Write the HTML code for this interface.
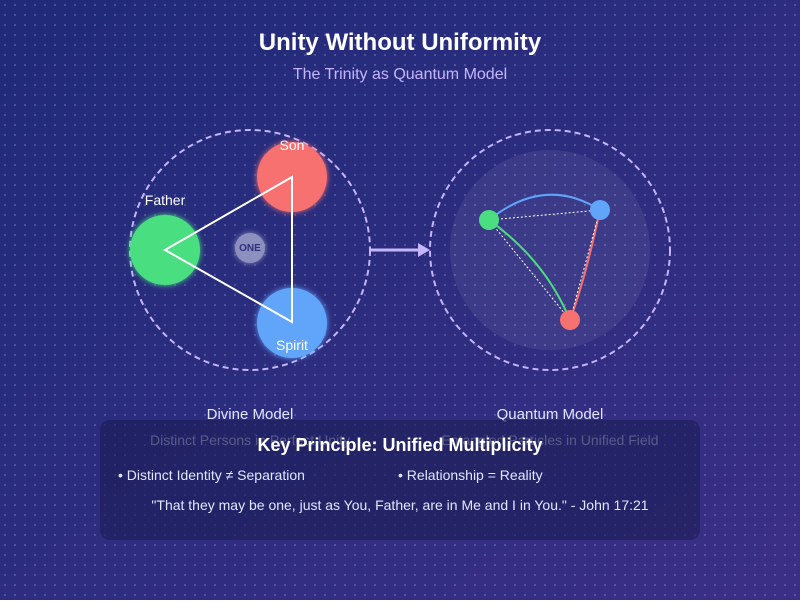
<!DOCTYPE html>
<html><head><meta charset="utf-8"><style>body{margin:0;width:800px;height:600px;overflow:hidden}</style></head><body>
<svg width="800" height="600" viewBox="0 0 800 600" xmlns="http://www.w3.org/2000/svg" font-family="'Liberation Sans', sans-serif">
<defs>
<linearGradient id="bg" x1="0" y1="0" x2="1" y2="1"><stop offset="0" stop-color="#1f2a78"/><stop offset="1" stop-color="#3b2f85"/></linearGradient>
<pattern id="dots" width="10" height="10" patternUnits="userSpaceOnUse"><circle cx="5" cy="5" r="1" fill="#8a93c4" opacity="0.5"/></pattern>
<filter id="glow" x="-50%" y="-50%" width="200%" height="200%"><feGaussianBlur stdDeviation="3" result="b"/><feMerge><feMergeNode in="b"/><feMergeNode in="SourceGraphic"/></feMerge></filter>
</defs>
<rect width="800" height="600" fill="url(#bg)"/>
<rect width="800" height="600" fill="url(#dots)"/>
<text x="400" y="50" text-anchor="middle" fill="#fff" font-size="24" font-weight="bold">Unity Without Uniformity</text>
<text x="400" y="79" text-anchor="middle" fill="#c4b5fd" font-size="16">The Trinity as Quantum Model</text>
<circle cx="250" cy="250" r="120" fill="none" stroke="#c4b5fd" stroke-width="2" stroke-dasharray="6,4"/>
<circle cx="165" cy="250" r="35" fill="#4ade80" filter="url(#glow)"/>
<circle cx="292" cy="177" r="35" fill="#f87171" filter="url(#glow)"/>
<circle cx="292" cy="323" r="35" fill="#60a5fa" filter="url(#glow)"/>
<polygon points="165,250 292,177 292,322" fill="none" stroke="#fff" stroke-width="2"/>
<circle cx="250" cy="248" r="15" fill="#a5a9d0" opacity="0.8" filter="url(#glow)"/>
<text x="250" y="251" text-anchor="middle" fill="#312e81" font-size="10" font-weight="bold">ONE</text>
<text x="165" y="205" text-anchor="middle" fill="#fff" font-size="14">Father</text>
<text x="292" y="150" text-anchor="middle" fill="#fff" font-size="14">Son</text>
<text x="292" y="350" text-anchor="middle" fill="#fff" font-size="14">Spirit</text>
<line x1="370" y1="250" x2="420" y2="250" stroke="#c4b5fd" stroke-width="3"/>
<polygon points="418,243 430,250 418,257" fill="#c4b5fd"/>
<circle cx="550" cy="250" r="120" fill="none" stroke="#c4b5fd" stroke-width="2" stroke-dasharray="6,4"/>
<circle cx="550" cy="250" r="100" fill="#fff" opacity="0.07"/>
<path d="M489,220 Q545,175 600,210" fill="none" stroke="#60a5fa" stroke-width="2"/>
<path d="M489,220 Q545,260 570,320" fill="none" stroke="#4ade80" stroke-width="2"/>
<path d="M600,210 Q585,280 570,320" fill="none" stroke="#f87171" stroke-width="2"/>
<g stroke="#fff" stroke-width="1" stroke-dasharray="2,2" fill="none">
<line x1="489" y1="220" x2="600" y2="210"/><line x1="489" y1="220" x2="570" y2="320"/><line x1="600" y1="210" x2="570" y2="320"/></g>
<circle cx="489" cy="220" r="10" fill="#4ade80"/>
<circle cx="600" cy="210" r="10" fill="#60a5fa"/>
<circle cx="570" cy="320" r="10" fill="#f87171"/>
<text x="250" y="419" text-anchor="middle" fill="#e0e7ff" font-size="15">Divine Model</text>
<text x="550" y="419" text-anchor="middle" fill="#e0e7ff" font-size="15">Quantum Model</text>
<text x="250" y="445" text-anchor="middle" fill="#b5b9d8" font-size="14">Distinct Persons in Perfect Unity</text>
<text x="550" y="445" text-anchor="middle" fill="#b5b9d8" font-size="14">Entangled Particles in Unified Field</text>
<rect x="100" y="420" width="600" height="120" rx="10" fill="#1a1d55" opacity="0.6"/>
<text x="400" y="451" text-anchor="middle" fill="#fff" font-size="18" font-weight="bold">Key Principle: Unified Multiplicity</text>
<text x="118" y="480" fill="#e0e7ff" font-size="14">• Distinct Identity ≠ Separation</text>
<text x="398" y="480" fill="#e0e7ff" font-size="14">• Relationship = Reality</text>
<text x="400" y="510" text-anchor="middle" fill="#e0e7ff" font-size="14">"That they may be one, just as You, Father, are in Me and I in You." - John 17:21</text>
</svg>
</body></html>
